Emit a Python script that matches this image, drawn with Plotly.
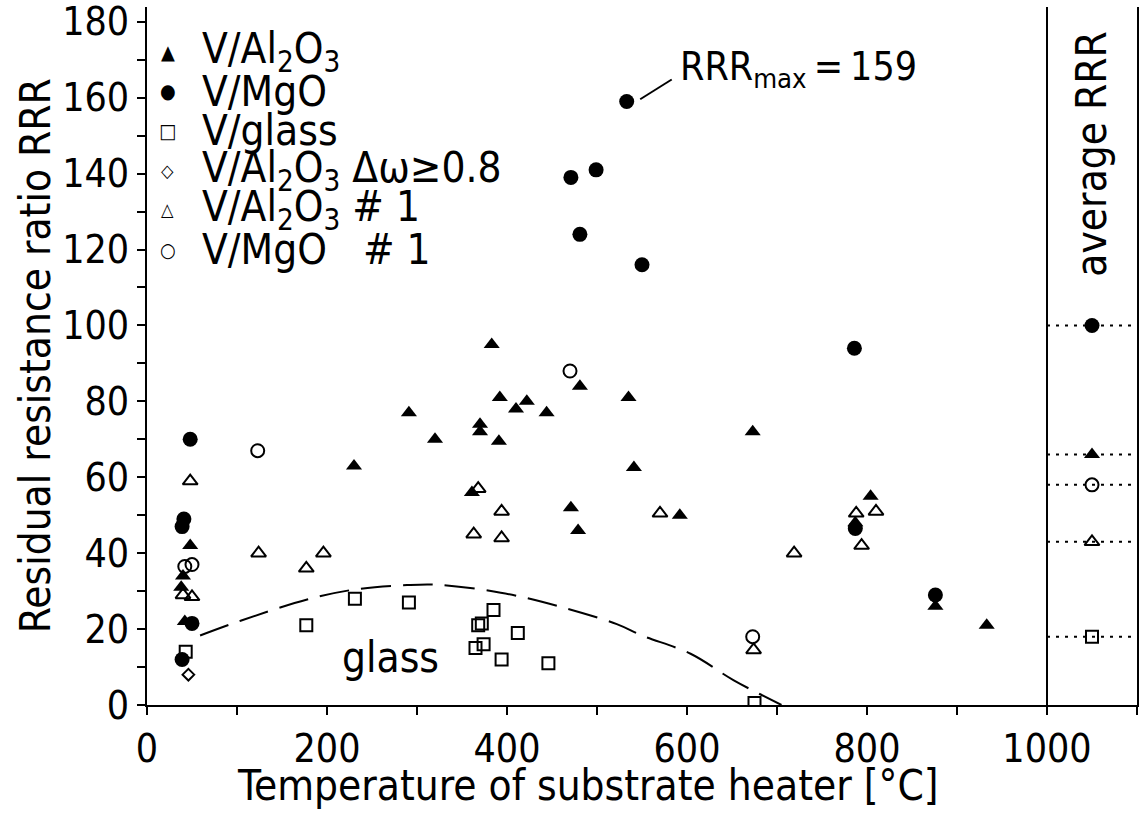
import plotly.graph_objects as go

FONT = "DejaVu Sans Condensed, Liberation Sans Narrow, DejaVu Sans"
FS_TICK = 39
FS_TEXT = 42

# ---------------- data ----------------
al2o3_T = [40, 38, 48, 42, 230, 291, 320, 383, 392, 422, 410, 444, 370, 370, 391,
           481, 535, 541, 361, 471, 479, 673, 592, 804, 787, 876, 933]
al2o3_RRR = [34, 31, 42, 22, 63, 77, 70, 95, 81, 80, 78, 77, 74, 72, 69.5,
             84, 81, 62.6, 56, 52, 46, 72, 50, 55, 48, 26, 21]

mgo_T = [48, 41, 39, 50, 39, 533, 471, 499, 481, 550, 786, 787, 876]
mgo_RRR = [70, 49, 47, 21.5, 12, 159, 139, 141, 124, 116, 94, 46.5, 29]

glass_T = [43, 177, 231, 291, 385, 368, 372, 412, 365, 374, 394, 446, 675]
glass_RRR = [14, 21, 28, 27, 25, 21, 21.5, 19, 15, 16, 12, 11, 0.5]

dw_T = [46]
dw_RRR = [8]

al2o3_1_T = [48, 40, 50, 124, 177, 196, 368, 394, 363, 394, 570, 810, 788, 794, 719, 674]
al2o3_1_RRR = [59, 29, 28.5, 40, 36, 40, 57, 51, 45, 44, 50.5, 51, 50.5, 42, 40, 14.5]

mgo_1_T = [42, 50, 123, 470, 673]
mgo_1_RRR = [36.5, 37, 67, 88, 18]

# dashed guide line for glass substrates
glass_curve_T = [59, 104, 178, 230, 289, 322, 393, 456, 522, 550, 604, 652, 705]
glass_curve_RRR = [18.3, 22.2, 27.8, 30.4, 31.6, 31.7, 29.6, 26.1, 21.3, 18.3, 13.5, 6.5, 0]

# average RRR values (right panel)
avg_series = ["V/MgO", "V/Al2O3", "V/MgO #1", "V/Al2O3 #1", "V/glass"]
avg_RRR = [100, 66, 58, 43, 18]

rrr_max = 159

x_ticks = [0, 200, 400, 600, 800, 1000]
y_ticks = [0, 20, 40, 60, 80, 100, 120, 140, 160, 180]

# ---------------- styles ----------------
styles = {
    "V/Al2O3": dict(symbol="triangle-up", size=14, color="black", line=dict(width=0)),
    "V/MgO": dict(symbol="circle", size=15, color="black", line=dict(width=0)),
    "V/glass": dict(symbol="square-open", size=12, color="black", line=dict(width=2, color="black")),
    "dw": dict(symbol="diamond-open", size=9, color="black", line=dict(width=2, color="black")),
    "V/Al2O3 #1": dict(symbol="triangle-up-open", size=13, color="black", line=dict(width=2, color="black")),
    "V/MgO #1": dict(symbol="circle-open", size=13, color="black", line=dict(width=2, color="black")),
}

PANEL = (1000, 1100)
panel_mid = (PANEL[0] + PANEL[1]) / 2

fig = go.Figure()

# dashed glass curve
fig.add_trace(go.Scatter(x=glass_curve_T, y=glass_curve_RRR, mode="lines",
                         line=dict(color="black", width=2, dash="30px,12px", shape="spline"),
                         showlegend=False, hoverinfo="skip"))

series = [
    ("V/glass", glass_T, glass_RRR),
    ("dw", dw_T, dw_RRR),
    ("V/Al2O3 #1", al2o3_1_T, al2o3_1_RRR),
    ("V/MgO #1", mgo_1_T, mgo_1_RRR),
    ("V/Al2O3", al2o3_T, al2o3_RRR),
    ("V/MgO", mgo_T, mgo_RRR),
]
for key, xs, ys in series:
    fig.add_trace(go.Scatter(x=xs, y=ys, mode="markers", marker=styles[key],
                             showlegend=False, name=key))

# average RRR panel: dotted lines + markers
for key, val in zip(avg_series, avg_RRR):
    fig.add_trace(go.Scatter(x=list(PANEL), y=[val, val], mode="lines",
                             line=dict(color="black", width=2, dash="3px,6px"),
                             showlegend=False, hoverinfo="skip"))
    fig.add_trace(go.Scatter(x=[panel_mid], y=[val], mode="markers",
                             marker=styles[key], showlegend=False, name=key + " avg"))

# separator line of the panel
fig.add_shape(type="line", xref="x", yref="paper", x0=PANEL[0], x1=PANEL[0], y0=0, y1=1,
              line=dict(color="black", width=2))

# RRR_max label with leader line
fig.add_shape(type="line", xref="x", yref="y", x0=548, y0=159.6, x1=583, y1=164.8,
              line=dict(color="black", width=2))
fig.add_annotation(x=590, y=167.5, xref="x", yref="y", xanchor="left", yanchor="middle",
                   text="RRR<sub>max</sub>\u2009=\u2009%d" % rrr_max, showarrow=False,
                   font=dict(family=FONT, size=FS_TICK, color="black"))

# "glass" label
fig.add_annotation(x=270, y=12.5, xref="x", yref="y", text="glass", showarrow=False,
                   font=dict(family=FONT, size=FS_TEXT, color="black"))

# "average RRR" label
fig.add_annotation(x=panel_mid, y=145, xref="x", yref="y", text="average RRR", textangle=-90,
                   showarrow=False, font=dict(family=FONT, size=FS_TEXT, color="black"))

# x-axis title (centred on the 0..1000 part)
fig.add_annotation(x=490, y=-0.115, xref="x", yref="paper", yanchor="middle",
                   text="Temperature of substrate heater [°C]", showarrow=False,
                   font=dict(family=FONT, size=FS_TEXT, color="black"))

# y-axis title
fig.add_annotation(x=-0.113, y=0.5, xref="paper", yref="paper", xanchor="center", yanchor="middle",
                   text="Residual resistance ratio RRR", textangle=-90, showarrow=False,
                   font=dict(family=FONT, size=FS_TEXT, color="black"))

# legend drawn as text rows
legend_rows = [
    ("▲", "V/Al<sub>2</sub>O<sub>3</sub>", 20),
    ("●", "V/MgO", 20),
    ("□", "V/glass", 20),
    ("◇", "V/Al<sub>2</sub>O<sub>3</sub> Δω≥0.8", 18),
    ("△", "V/Al<sub>2</sub>O<sub>3</sub> # 1", 18),
    ("○", "V/MgO   # 1", 20),
]
plot_h = 705
for i, (sym, label, ssize) in enumerate(legend_rows):
    yp = 1 - (45 + 40 * i) / plot_h
    fig.add_annotation(x=0.0212, y=yp, xref="paper", yref="paper", text=sym, showarrow=False,
                       xanchor="center", yanchor="middle",
                       font=dict(family=FONT, size=ssize, color="black"))
    fig.add_annotation(x=0.0535, y=yp, xref="paper", yref="paper", text=label, showarrow=False,
                       xanchor="left", yanchor="middle",
                       font=dict(family=FONT, size=FS_TEXT, color="black"))

fig.update_layout(
    width=1139, height=825,
    margin=dict(l=147, r=2, t=0, b=120),
    plot_bgcolor="white", paper_bgcolor="white",
    font=dict(family=FONT, size=FS_TICK, color="black"),
    showlegend=False,
    xaxis=dict(range=[0, PANEL[1]], tickvals=x_ticks, ticks="outside", ticklen=8, tickwidth=2,
               tickcolor="black", showline=True, linecolor="black", linewidth=2,
               showgrid=False, zeroline=False,
               minor=dict(dtick=100, tick0=0, ticks="outside", ticklen=8, tickwidth=2,
                          tickcolor="black", showgrid=False),
               tickfont=dict(family=FONT, size=FS_TICK, color="black")),
    yaxis=dict(range=[0, 183.9], tickvals=y_ticks, ticks="outside", ticklen=8, tickwidth=2,
               tickcolor="black", showline=True, mirror=True, linecolor="black", linewidth=2,
               showgrid=False, zeroline=False, ticklabeloverflow="allow",
               minor=dict(dtick=10, tick0=0, ticks="outside", ticklen=8, tickwidth=2,
                          tickcolor="black", showgrid=False),
               tickfont=dict(family=FONT, size=FS_TICK, color="black")),
)

fig.write_html("out.html")
